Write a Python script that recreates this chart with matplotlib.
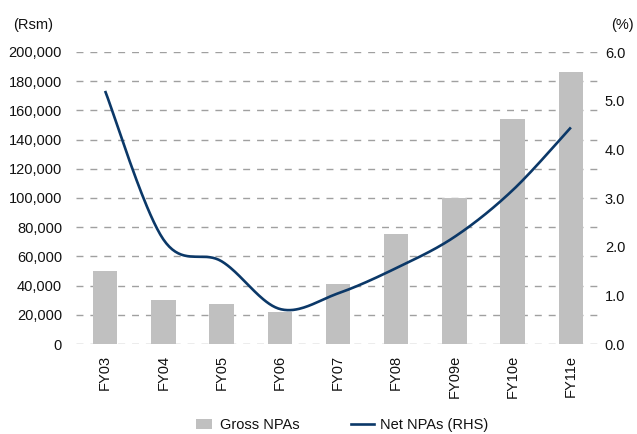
import numpy as np
import matplotlib
matplotlib.use("Agg")
import matplotlib.pyplot as plt
from matplotlib.lines import Line2D
from matplotlib.patches import Patch
from matplotlib.ticker import FuncFormatter

plt.rcParams['font.family'] = ['Liberation Sans', 'DejaVu Sans']

# Data
years = ["FY03", "FY04", "FY05", "FY06", "FY07", "FY08", "FY09e", "FY10e", "FY11e"]
gross_npas = [50000, 30000, 27500, 22000, 41000, 75500, 100000, 154000, 186500]   # Rs m
net_npas_pct = [5.20, 2.15, 1.70, 0.72, 1.04, 1.56, 2.20, 3.16, 4.45]            # %

BAR_COLOR = "#C0C0C0"
LINE_COLOR = "#0B3868"
GRID_COLOR = "#A0A0A0"
TEXT_COLOR = "#111111"
FS = 10.5


def smooth_curve(xs, ys, n=40):
    """Catmull-Rom style smoothing through the given points."""
    xs = np.asarray(xs, float)
    ys = np.asarray(ys, float)
    px = np.concatenate([[xs[0]], xs, [xs[-1]]])
    py = np.concatenate([[ys[0]], ys, [ys[-1]]])
    out_x, out_y = [], []
    t = np.linspace(0, 1, n)
    for i in range(1, len(px) - 2):
        p0 = np.array([px[i], py[i]])
        p3 = np.array([px[i + 1], py[i + 1]])
        c1 = p0 + (np.array([px[i + 1], py[i + 1]]) - np.array([px[i - 1], py[i - 1]])) / 6
        c2 = p3 - (np.array([px[i + 2], py[i + 2]]) - np.array([px[i], py[i]])) / 6
        b = ((1 - t) ** 3)[:, None] * p0 + (3 * (1 - t) ** 2 * t)[:, None] * c1 \
            + (3 * (1 - t) * t ** 2)[:, None] * c2 + (t ** 3)[:, None] * p3
        out_x.extend(b[:, 0])
        out_y.extend(b[:, 1])
    return np.array(out_x), np.array(out_y)


fig = plt.figure(figsize=(6.37, 4.34), dpi=100)
ax = fig.add_axes([76 / 637, 1 - 344 / 434, 524 / 637, 292 / 434])
ax2 = ax.twinx()

x = np.arange(len(years))
ax.bar(x, gross_npas, width=0.42, color=BAR_COLOR, zorder=2)

ax.set_xlim(-0.5, len(years) - 0.5)
ax.set_ylim(0, 200000)
ax.set_yticks(np.arange(0, 200001, 20000))
ax.yaxis.set_major_formatter(FuncFormatter(lambda v, p: f"{int(v):,}"))
ax.set_xticks(x)
ax.set_xticklabels(years, rotation=90)

ax.grid(axis='y', color=GRID_COLOR, linestyle=(0, (5, 5)), linewidth=1.0, zorder=0)
ax.set_axisbelow(True)

for a in (ax, ax2):
    for s in a.spines.values():
        s.set_visible(False)
    a.tick_params(length=0, labelsize=FS, colors=TEXT_COLOR)
ax.tick_params(axis='y', pad=10)
ax.tick_params(axis='x', pad=8)
ax2.tick_params(axis='y', pad=3.5)

sx, sy = smooth_curve(x, net_npas_pct)
ax2.plot(sx, sy, color=LINE_COLOR, linewidth=1.9, solid_capstyle='butt', zorder=3)
ax2.set_ylim(0, 6)
ax2.set_yticks(np.arange(0, 6.01, 1))
ax2.yaxis.set_major_formatter(FuncFormatter(lambda v, p: f"{v:.1f}"))

fig.text(13 / 637, 1 - 25 / 434, "(Rsm)", fontsize=FS, color=TEXT_COLOR, va='center', ha='left')
fig.text(634 / 637, 1 - 25 / 434, "(%)", fontsize=FS, color=TEXT_COLOR, va='center', ha='right')

# Legend entries placed separately so each handle keeps its own length
fig.legend([Patch(facecolor=BAR_COLOR, edgecolor='none')], ["Gross NPAs"],
           loc='center left', bbox_to_anchor=(183 / 637, 1 - 425 / 434), frameon=False,
           fontsize=FS, handlelength=1.1, handleheight=0.75, handletextpad=0.55,
           labelcolor=TEXT_COLOR)
fig.legend([Line2D([0], [0], color=LINE_COLOR, linewidth=1.9)], ["Net NPAs (RHS)"],
           loc='center left', bbox_to_anchor=(338 / 637, 1 - 425 / 434), frameon=False,
           fontsize=FS, handlelength=1.6, handletextpad=0.35,
           labelcolor=TEXT_COLOR)

fig.savefig("out.png", dpi=100)
